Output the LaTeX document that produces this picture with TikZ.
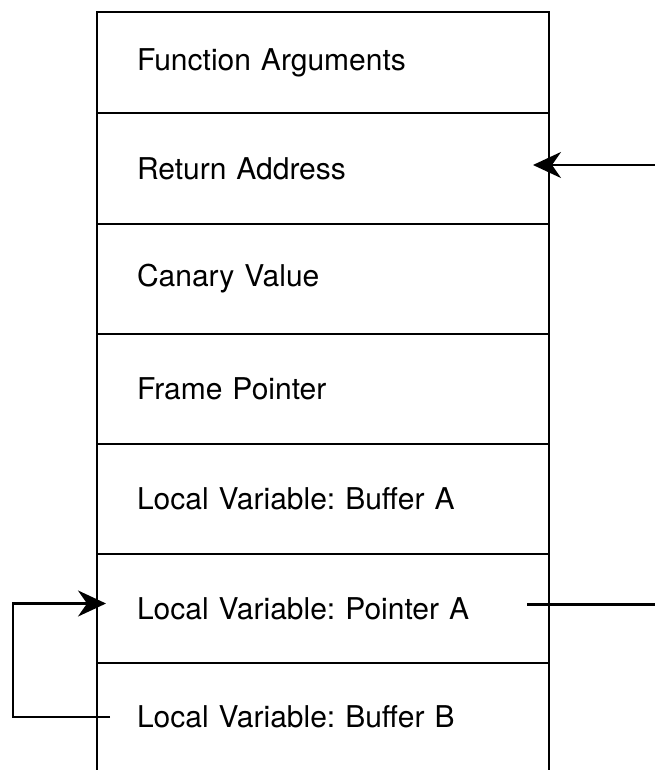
\documentclass[tikz,border=0pt]{standalone}
\usepackage{fontspec}
\setmainfont{TeX Gyre Heros}
\usetikzlibrary{arrows.meta, positioning}
\frenchspacing

\begin{document}
\begin{tikzpicture}[
        x=1pt, y=-1pt,
        line width=2.5pt,
        pointsto/.style={-{Stealth[length=28pt, width=26pt, inset=9pt]}},
        pointedby/.style={{Stealth[length=28pt, width=26pt, inset=9pt]}-},
        slot/.style={draw, line width=2.5pt, outer sep=0pt, minimum width=452pt, text width=372pt, inner xsep=40pt, inner ysep=0pt, align=left, font=\fontsize{30}{36}\selectfont},
        openslot/.style={slot, draw=none}
    ]
    \useasboundingbox (0,0) rectangle (655,770);

    % --- Stack frame slots ---
    \node[slot, anchor=north west, minimum height=101pt] (args) at (97,12) {Function Arguments};
    \node[slot, below=0pt of args, minimum height=111pt] (ret) {Return Address};
    \node[slot, below=0pt of ret, minimum height=110pt] (canary) {Canary Value};
    \node[slot, below=0pt of canary, minimum height=110pt] (fp) {Frame Pointer};
    \node[slot, below=0pt of fp, minimum height=110pt] (bufa) {Local Variable: Buffer A};
    \node[slot, below=0pt of bufa, minimum height=109pt] (ptra) {Local Variable: Pointer A};
    \node[openslot, below=0pt of ptra, minimum height=108pt] (bufb) {Local Variable: Buffer B};
    \draw (bufb.north west) -- (bufb.south west);
    \draw (bufb.north east) -- (bufb.south east);

    % --- Connectors ---
    \draw[pointedby] ([xshift=-16pt, yshift=3.5pt]ret.east) -- ++(122,0);
    \draw ([xshift=-22pt, yshift=4pt]ptra.east) -- ++(128,0);
    \draw[pointsto] ([xshift=13pt]bufb.west) -- ++(-97,0) |- ([xshift=9pt, yshift=5pt]ptra.west);
\end{tikzpicture}
\end{document}
